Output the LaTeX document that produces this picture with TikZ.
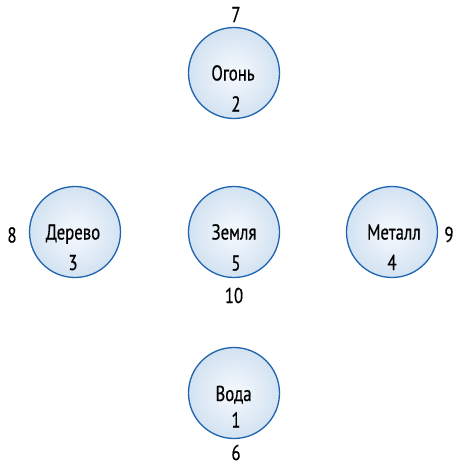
\documentclass[tikz,border=0pt]{standalone}
\usepackage{fontspec}
\setmainfont[FakeStretch=0.78, FakeBold=0.5]{PT Sans}
\usetikzlibrary{positioning}

\definecolor{rim}{HTML}{1F64AF}
\definecolor{glasscore}{HTML}{F6FAFD}
\definecolor{glassinner}{HTML}{EBF2FA}
\definecolor{glassmid}{HTML}{D4E3F2}
\definecolor{glassouter}{HTML}{BFD5EC}
\definecolor{glassedge}{HTML}{AFC9E6}
\definecolor{glassring}{HTML}{D3E3F4}
\pgfdeclareradialshading{glass}{\pgfpoint{0bp}{0bp}}{%
  color(0bp)=(glasscore); color(8bp)=(glassinner);
  color(24bp)=(glassmid); color(38bp)=(glassouter);
  color(45bp)=(glassedge); color(48bp)=(glassring); color(50bp)=(glassring)}

\begin{document}
\begin{tikzpicture}[
    x = 1pt, y = -1pt,
    ball/.style = {circle, draw=rim, line width=1.3pt, shading=glass, minimum size=91pt, inner sep=0pt},
    word/.style = {anchor=base, inner sep=0pt, font=\fontsize{21.5}{24}\selectfont}]

\useasboundingbox (0,0) rectangle (453,466);

% Fire
\node[ball] (ogon) at (234,73) {};
\node[word] (ogon name) at (233,80.5) {Огонь};
\node[word] (ogon num) at (236,111.5) {2};
\node[word] (ogon out) at (236,22) {7};

% Wood
\node[ball] (derevo) at (75,232) {};
\node[word] (derevo name) at (73,239.5) {Дерево};
\node[word] (derevo num) at (73,270) {3};
\node[word] (derevo out) at (12,242.5) {8};

% Earth
\node[ball] (zemlya) at (234,232) {};
\node[word] (zemlya name) at (234,239.5) {Земля};
\node[word] (zemlya num) at (236,270.5) {5};
\node[word] (zemlya out) at (234,303) {10};

% Metal
\node[ball] (metall) at (392,232) {};
\node[word] (metall name) at (394,239.5) {Металл};
\node[word] (metall num) at (392,270) {4};
\node[word] (metall out) at (449,242) {9};

% Water
\node[ball] (voda) at (234,393) {};
\node[word] (voda name) at (233.5,401) {Вода};
\node[word] (voda num) at (236,427.5) {1};
\node[word] (voda out) at (236,460) {6};

\end{tikzpicture}
\end{document}
